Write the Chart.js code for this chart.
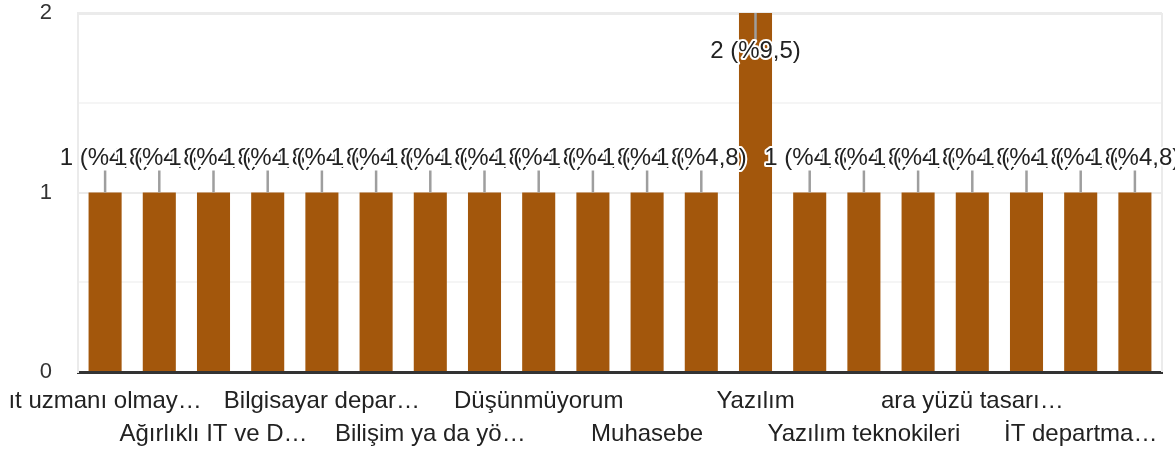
<!DOCTYPE html>
<html>
<head>
<meta charset="utf-8">
<script src="https://cdn.jsdelivr.net/npm/chart.js@4/dist/chart.umd.min.js"></script>
<style>
  html, body { margin: 0; padding: 0; background: #fff; }
  #wrap { width: 1175px; height: 452px; }
</style>
</head>
<body>
<div id="wrap"><canvas id="myChart"></canvas></div>
<script>
// only every second category name is shown in the picture, the others are unknown
const categories = [
    'ıt uzmanı olmay…', '', 'Ağırlıklı IT ve D…', '', 'Bilgisayar depar…', '',
    'Bilişim ya da yö…', '', 'Düşünmüyorum', '', 'Muhasebe', '',
    'Yazılım', '', 'Yazılım teknokileri', '', 'ara yüzü tasarı…', '',
    'İT departma…', ''
];
const counts = [1, 1, 1, 1, 1, 1, 1, 1, 1, 1, 1, 1, 2, 1, 1, 1, 1, 1, 1, 1];
const yTickLabels = [0, 1, 2];

const total = counts.reduce((s, v) => s + v, 0);
const FONT = '"Liberation Sans", Arial, sans-serif';

const barLabels = {
    id: 'barLabels',
    afterDatasetsDraw(chart) {
        const ctx = chart.ctx;
        const area = chart.chartArea;
        const meta = chart.getDatasetMeta(0);
        ctx.save();
        ctx.font = '24px ' + FONT;
        ctx.textAlign = 'center';
        ctx.textBaseline = 'middle';
        meta.data.forEach((bar, i) => {
            const v = counts[i];
            const pct = (v / total * 100).toFixed(1).replace('.', ',');
            const text = v + ' (%' + pct + ')';
            let ty, l1, l2;
            if (bar.y - 40 < area.top) {
                ty = bar.y + 38; l1 = bar.y; l2 = bar.y + 26;
            } else {
                ty = bar.y - 34; l1 = bar.y - 22; l2 = bar.y;
            }
            ctx.strokeStyle = '#9e9e9e';
            ctx.lineWidth = 2.5;
            ctx.beginPath();
            ctx.moveTo(bar.x, l1);
            ctx.lineTo(bar.x, l2);
            ctx.stroke();
            ctx.lineWidth = 4;
            ctx.lineJoin = 'round';
            ctx.strokeStyle = '#fff';
            ctx.strokeText(text, bar.x, ty);
            ctx.fillStyle = '#222';
            ctx.fillText(text, bar.x, ty);
        });
        ctx.restore();
    }
};

const frame = {
    id: 'frame',
    beforeDatasetsDraw(chart) {
        const ctx = chart.ctx;
        const a = chart.chartArea;
        ctx.save();
        ctx.strokeStyle = '#ebebeb';
        ctx.lineWidth = 2;
        ctx.beginPath();
        ctx.moveTo(a.right, a.top);
        ctx.lineTo(a.right, a.bottom);
        ctx.stroke();
        ctx.restore();
    }
};

const data = {
    labels: categories,
    datasets: [{
        label: 'Yanıt',
        data: counts,
        backgroundColor: '#a3570c',
        categoryPercentage: 1,
        barPercentage: 0.61
    }]
};

const config = {
    type: 'bar',
    data: data,
    options: {
        responsive: true,
        maintainAspectRatio: false,
        animation: false,
        layout: { padding: { top: 0, right: 13, left: 0, bottom: 0 } },
        plugins: {
            legend: { display: false },
            tooltip: { enabled: false }
        },
        scales: {
            x: {
                grid: { display: false },
                border: { color: '#333', width: 3 },
                ticks: {
                    autoSkip: false,
                    maxRotation: 0,
                    padding: 5,
                    color: '#222',
                    font: { family: FONT, size: 24, lineHeight: 1.375 },
                    callback: function (val, i) {
                        const name = categories[i];
                        if (!name) return '';
                        return (i % 4 === 0) ? [name] : ['', name];
                    }
                },
                afterFit: function (s) { s.height = 80; }
            },
            y: {
                min: 0,
                max: 2,
                border: { color: '#ebebeb', width: 2 },
                grid: {
                    drawTicks: false,
                    color: (c) => c.tick.value === 0 ? 'rgba(0,0,0,0)' :
                        (Number.isInteger(c.tick.value) ? '#ebebeb' : '#f5f5f5'),
                    lineWidth: (c) => c.tick.value === 2 ? 3 : 2
                },
                ticks: {
                    stepSize: 0.5,
                    padding: 26,
                    color: '#333',
                    font: { family: FONT, size: 22 },
                    callback: (v) => yTickLabels.includes(v) ? String(v) : ''
                },
                afterFit: function (s) {
                    s.width = 78;
                    s.paddingTop = 13;
                    s.paddingBottom = 0;
                }
            }
        }
    },
    plugins: [frame, barLabels]
};

new Chart(document.getElementById('myChart'), config);
</script>
</body>
</html>
